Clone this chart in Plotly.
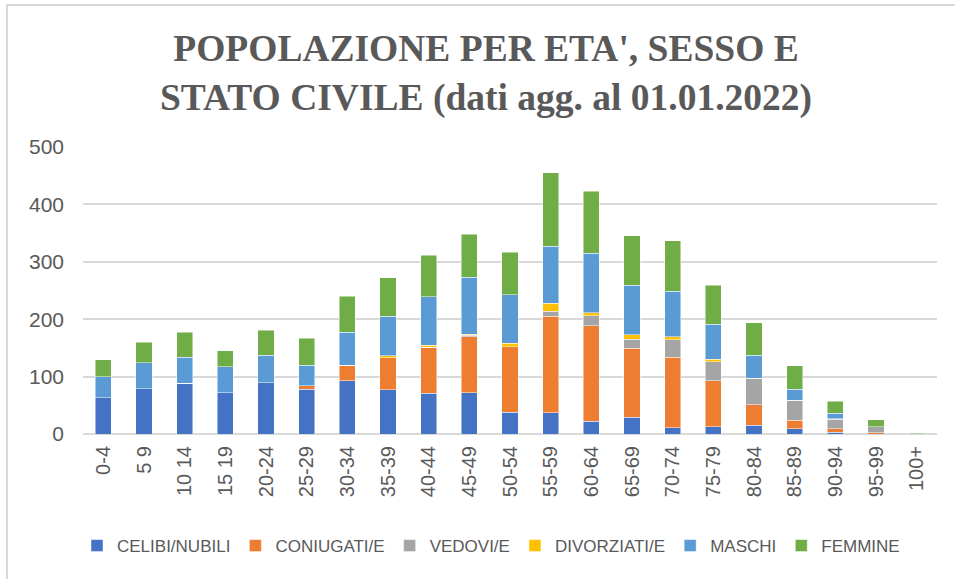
import plotly.graph_objects as go

categories = ["0-4", "5 9", "10 14", "15 19", "20-24", "25-29", "30-34", "35-39", "40-44", "45-49",
              "50-54", "55-59", "60-64", "65-69", "70-74", "75-79", "80-84", "85-89", "90-94", "95-99", "100+"]

celibi_nubili = [63, 79, 88, 72, 89, 78, 93, 77, 71, 72, 38, 37, 22, 29, 11, 13, 15, 9, 3, 0, 0]
coniugati = [0, 0, 0, 0, 0, 6, 27, 56, 80, 97, 114, 168, 167, 120, 123, 80, 36, 15, 6, 2, 0]
vedovi = [0, 0, 0, 0, 0, 0, 0, 0, 0, 3, 0, 9, 17, 16, 30, 33, 45, 35, 17, 11, 0]
divorziati = [0, 0, 0, 0, 0, 0, 0, 3, 4, 2, 6, 14, 5, 8, 5, 4, 1, 0, 1, 0, 0]
maschi = [37, 45, 46, 45, 48, 36, 57, 69, 84, 99, 85, 99, 104, 86, 80, 61, 40, 19, 9, 0, 0]
femmine = [29, 36, 43, 28, 44, 47, 63, 67, 72, 75, 74, 128, 108, 86, 88, 68, 57, 41, 21, 12, 1]

y_ticks = [0, 100, 200, 300, 400, 500]

series = [
    ("CELIBI/NUBILI", celibi_nubili, "#4472C4"),
    ("CONIUGATI/E", coniugati, "#ED7D31"),
    ("VEDOVI/E", vedovi, "#A5A5A5"),
    ("DIVORZIATI/E", divorziati, "#FFC000"),
    ("MASCHI", maschi, "#5B9BD5"),
    ("FEMMINE", femmine, "#70AD47"),
]

fig = go.Figure()
for name, vals, col in series:
    fig.add_trace(go.Bar(
        x=categories, y=vals, name=name,
        marker=dict(color=col, line=dict(color="rgba(255,255,255,0.6)", width=0.8)),
    ))

W, H = 955, 579
ml, mr, mt, mb = 83, 18, 147, 145
pw, ph = W - ml - mr, H - mt - mb

def px_x(x):
    return (x - ml) / pw

def px_y(y):
    return (H - mb - y) / ph

fig.update_layout(
    width=W, height=H,
    barmode="stack", bargap=0.6,
    paper_bgcolor="white", plot_bgcolor="white",
    margin=dict(l=ml, r=mr, t=mt, b=mb, autoexpand=False),
    font=dict(family="Liberation Sans, Arial, sans-serif", size=20, color="#595959"),
    title=dict(
        text="POPOLAZIONE PER ETA', SESSO E<br>STATO CIVILE (dati agg. al 01.01.2022)",
        x=486 / W, xref="container", xanchor="center",
        y=1 - 61 / H, yref="container", yanchor="middle",
        font=dict(family="Liberation Serif, Times New Roman, serif", size=37.5, color="#595959", weight="bold"),
    ),
    xaxis=dict(
        tickangle=-90, showgrid=False, showline=False, ticks="",
        ticklabelstandoff=7,
        tickfont=dict(size=20, color="#595959"),
    ),
    yaxis=dict(
        range=[0, 500], tickvals=y_ticks, ticktext=[str(v) for v in y_ticks],
        showgrid=True, gridcolor="#D9D9D9", gridwidth=1.5,
        zeroline=True, zerolinecolor="#D9D9D9", zerolinewidth=1.5,
        showline=False, ticks="", ticklabelstandoff=18,
        tickfont=dict(size=21, color="#595959"),
    ),
    legend=dict(
        orientation="h", xref="container", x=491 / W, xanchor="center",
        yref="container", y=1 - 546 / H, yanchor="middle",
        font=dict(family="Liberation Sans, Arial, sans-serif", size=17, color="#595959"),
        traceorder="normal",
    ),
    showlegend=True,
)

# chart frame (left and top edges visible in the reference)
fig.add_shape(type="line", xref="paper", yref="paper",
              x0=px_x(7), x1=px_x(7), y0=px_y(5), y1=px_y(H + 5),
              line=dict(color="#D9D9D9", width=2), layer="below")
fig.add_shape(type="line", xref="paper", yref="paper",
              x0=px_x(6), x1=px_x(W + 5), y0=px_y(5), y1=px_y(5),
              line=dict(color="#D9D9D9", width=2), layer="below")

fig.write_html("out.html", config={"displayModeBar": False},
               post_script="document.body.style.margin='0px';")
